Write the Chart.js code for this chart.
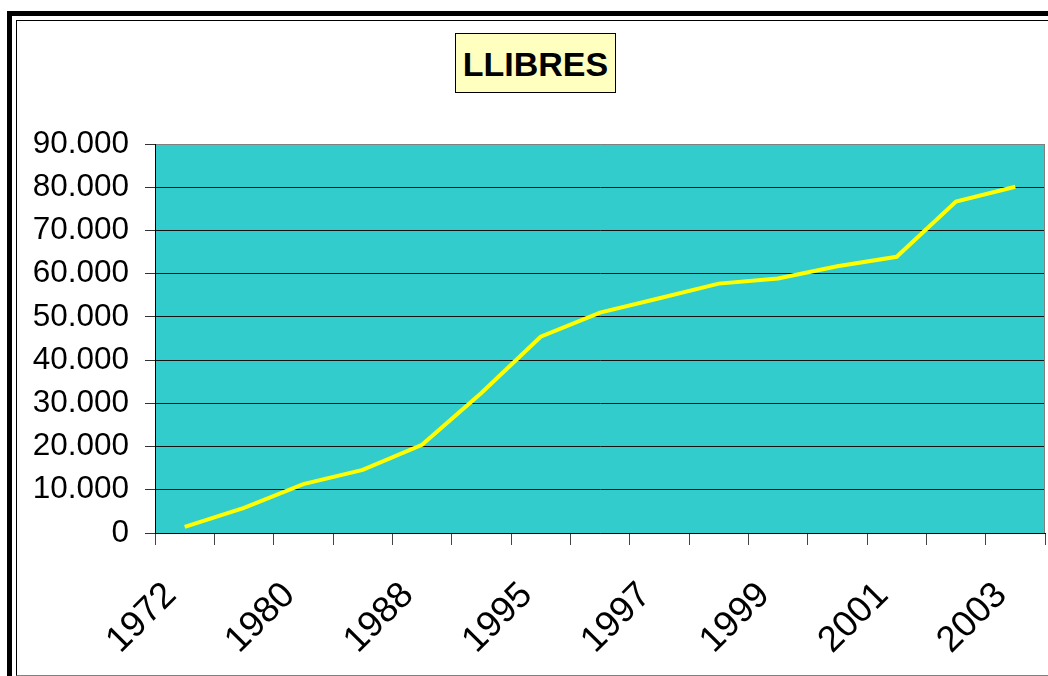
<!DOCTYPE html>
<html>
<head>
<meta charset="utf-8">
<script src="https://cdn.jsdelivr.net/npm/chart.js@4.4.0/dist/chart.umd.min.js"></script>
<style>
  body { margin: 0; background: #fff; overflow: hidden; }
  #outer { position: absolute; left: 7px; top: 11px; width: 2000px; height: 2000px;
           border-left: 5px solid #000; border-top: 5px solid #000; }
  #inner { position: absolute; left: 16px; top: 20px; width: 2000px; height: 654px;
           border-left: 1px solid #000; border-top: 1px solid #000; border-bottom: 1px solid #808080; }
  #title { position: absolute; left: 455px; top: 33px; width: 159px; height: 58px;
           background: #FFFFC0; border: 1px solid #000; text-align: center;
           font: bold 34px "Liberation Sans", Arial, sans-serif; line-height: 60px; color: #000; }
  #myChart { position: absolute; left: 0; top: 0; width: 1048px; height: 676px; }
</style>
</head>
<body>
<div id="outer"></div>
<div id="inner"></div>
<canvas id="myChart" width="1048" height="676"></canvas>
<div id="title">LLIBRES</div>
<script>

// categories (every other year label is shown on the axis)
const years = ['1972', '1976', '1980', '1984', '1988', '1992', '1995', '1996',
               '1997', '1998', '1999', '2000', '2001', '2002', '2003'];
const shownYears = ['1972', '1980', '1988', '1995', '1997', '1999', '2001', '2003'];

// number of books
const books = [1400, 5800, 11300, 14600, 20400, 32400, 45400, 51000,
               54300, 57700, 58900, 61700, 63900, 76700, 80100];

const yMin = 0;
const yMax = 90000;
const yStep = 10000;

const FONT = '"Liberation Sans", Arial, sans-serif';

function thousands(v) {
    return String(v).replace(/\B(?=(\d{3})+(?!\d))/g, '.');
}

const plotBackground = {
    id: 'plotBackground',
    beforeDraw(chart) {
        const { ctx, chartArea: a } = chart;
        ctx.save();
        ctx.fillStyle = '#33CCCC';
        ctx.fillRect(a.left, a.top, a.right - a.left, a.bottom - a.top);
        ctx.restore();
    },
    afterDraw(chart) {
        const { ctx, chartArea: a } = chart;
        ctx.save();
        ctx.strokeStyle = '#808080';
        ctx.lineWidth = 1;
        ctx.beginPath();
        ctx.moveTo(a.right - 0.5, a.top);
        ctx.lineTo(a.right - 0.5, a.bottom);
        ctx.stroke();
        ctx.restore();
    }
};

function drawChart() {
    const ctx = document.getElementById('myChart').getContext('2d');

    new Chart(ctx, {
        type: 'line',
        data: {
            labels: years,
            datasets: [{
                data: books,
                borderColor: '#FFFF00',
                borderWidth: 4,
                pointRadius: 0,
                tension: 0,
                fill: false
            }]
        },
        options: {
            responsive: false,
            animation: false,
            layout: { padding: { top: 144, right: 3, left: 0, bottom: 0 } },
            plugins: {
                legend: { display: false },
                title: { display: false },
                tooltip: { enabled: false }
            },
            scales: {
                x: {
                    offset: true,
                    grid: {
                        offset: true,
                        drawOnChartArea: false,
                        drawTicks: true,
                        tickLength: 12,
                        tickColor: '#444'
                    },
                    border: { display: true, color: '#000', width: 1 },
                    ticks: {
                        autoSkip: false,
                        minRotation: 45,
                        maxRotation: 45,
                        padding: 29,
                        labelOffset: -14,
                        color: '#000',
                        font: { family: FONT, size: 36.5 },
                        callback: function(value) {
                            const lab = this.getLabelForValue(value);
                            return shownYears.includes(lab) ? lab : '';
                        }
                    },
                    afterFit: function(scale) {
                        scale.height = 143;
                        scale.paddingLeft = 0;
                        scale.paddingRight = 0;
                    }
                },
                y: {
                    min: yMin,
                    max: yMax,
                    grid: {
                        color: c => (c.tick && c.tick.value === yMax) ? '#808080' : '#111',
                        lineWidth: 1,
                        tickLength: 10,
                        tickColor: '#333'
                    },
                    border: { display: true, color: '#000', width: 1 },
                    ticks: {
                        stepSize: yStep,
                        padding: 16,
                        color: '#000',
                        font: { family: FONT, size: 31.5 },
                        callback: v => thousands(v)
                    },
                    afterFit: function(scale) { scale.width = 155; }
                }
            }
        },
        plugins: [plotBackground]
    });
}

drawChart();
</script>
</body>
</html>
